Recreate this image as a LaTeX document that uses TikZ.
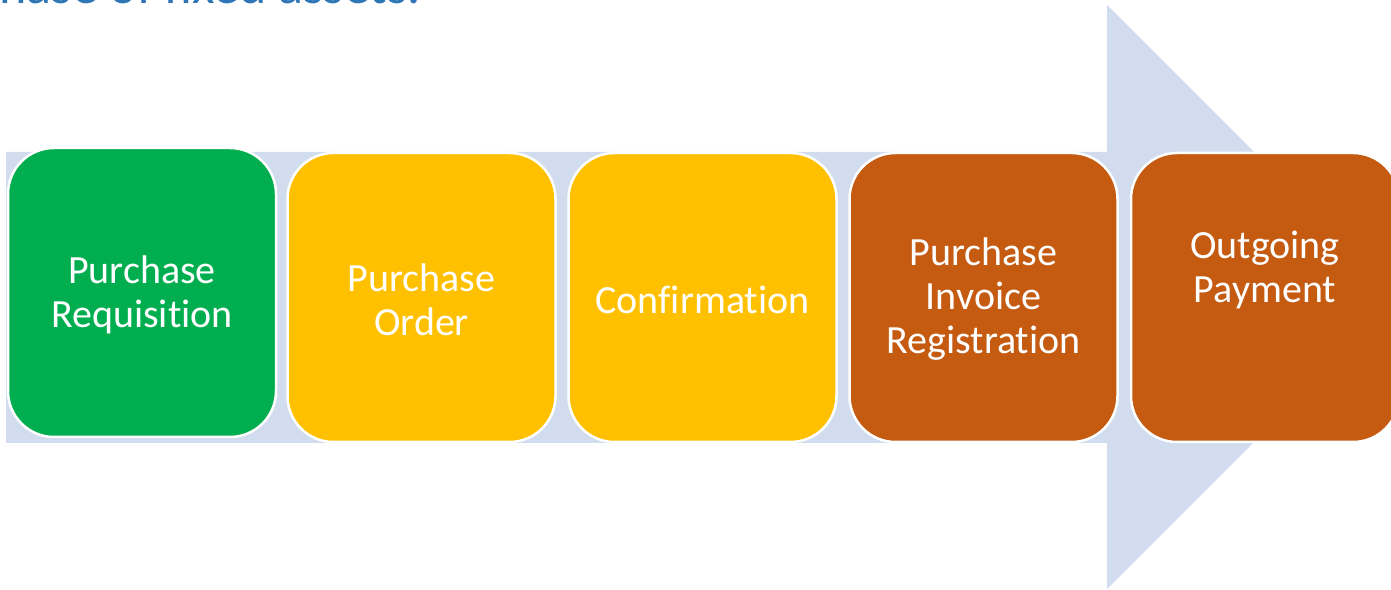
\documentclass[tikz,border=0pt]{standalone}
\usepackage{fontspec}
\setmainfont{Carlito}[RawFeature={-liga;-clig;-dlig;-calt}]
\definecolor{arrowfill}{HTML}{D1DCEE}
\definecolor{stepgreen}{HTML}{00AE4F}
\definecolor{stepyellow}{HTML}{FFC000}
\definecolor{stepbrown}{HTML}{C55A11}
\definecolor{titleblue}{HTML}{2E75B6}
\begin{document}
\begin{tikzpicture}[x=1pt,y=1pt,
  stepbox/.style={draw=white, line width=2.5pt, rounded corners=46pt,
    minimum width=268pt, minimum height=289pt, inner sep=0pt},
  steptext/.style={text=white, align=center, font=\fontsize{40}{44}\selectfont},
  titletext/.style={text=titleblue, font=\fontsize{52}{60}\selectfont, inner sep=0pt}]
\useasboundingbox (0,0) rectangle (1391,589);
\begin{scope}
\clip (0,0) rectangle (1391,589);
% big background arrow
\fill[arrowfill] (6,146) -- (6,437) -- (1107,437) -- (1107,584)
  -- (1399,292) -- (1107,0) -- (1107,146) -- cycle;
% heading, cut off by the top edge
\node[titletext, anchor=base east] (title) at (421,585) {hase of fixed assets.};
% process steps
\node[stepbox, fill=stepgreen]  (s1) at (142,296.5) {};
\node[stepbox, fill=stepyellow] (s2) at (421.5,291.5) {};
\node[stepbox, fill=stepyellow] (s3) at (702.5,291.5) {};
\node[stepbox, fill=stepbrown]  (s4) at (983.5,291.5) {};
\node[stepbox, fill=stepbrown]  (s5) at (1265,291.5) {};
\node[steptext] (t1) at ([yshift=-2pt]s1.center) {Purchase\\Requisition};
\node[steptext] (t2) at ([yshift=-2pt]s2.center) {Purchase\\Order};
\node[steptext] (t3) at ([yshift=-2pt]s3.center) {Confirmation};
\node[steptext] (t4) at ([yshift=-2pt]s4.center) {Purchase\\Invoice\\Registration};
\node[steptext] (t5) at ([yshift=28pt]s5.center) {Outgoing\\Payment};
\end{scope}
\end{tikzpicture}
\end{document}
